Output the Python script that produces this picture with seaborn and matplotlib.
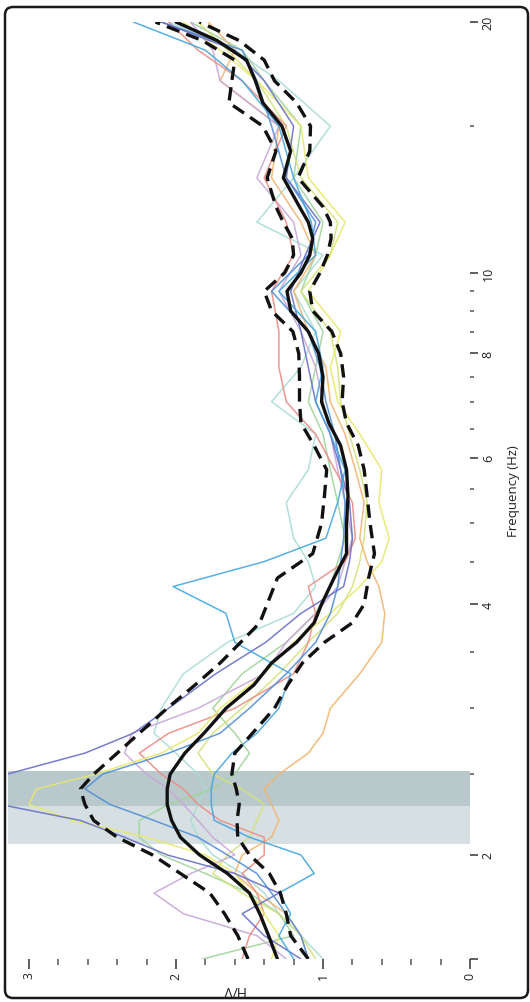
import matplotlib
matplotlib.use("Agg")
import matplotlib.pyplot as plt
import seaborn as sns
from matplotlib.patches import FancyBboxPatch
from matplotlib.transforms import IdentityTransform
from matplotlib.ticker import FixedLocator, FixedFormatter, NullFormatter

# ---------------- data ----------------
freq_main = [1.5, 1.6, 1.7, 1.8, 1.9, 2.0, 2.1, 2.2, 2.3, 2.4, 2.5, 2.65, 2.8, 3.0, 3.2, 3.4,
             3.6, 3.8, 4.0, 4.3, 4.6, 5.0, 5.4, 5.8, 6.2, 6.6, 7.0, 7.5, 8.0, 8.5, 9.0, 9.5,
             10, 10.5, 11, 11.5, 12, 13, 14, 15, 16, 17, 18, 19, 20]
hv_mean = [1.31, 1.37, 1.43, 1.50, 1.65, 1.84, 1.97, 2.03, 2.06, 2.06, 2.04, 1.94, 1.81, 1.66,
           1.47, 1.35, 1.18, 1.06, 1.01, 0.925, 0.84, 0.84, 0.83, 0.84, 0.88, 0.96, 1.01, 1.00,
           1.03, 1.10, 1.22, 1.245, 1.15, 1.09, 1.07, 1.10, 1.16, 1.27, 1.22, 1.28, 1.41, 1.46,
           1.52, 1.72, 2.00]
hv_upper = [1.51, 1.58, 1.67, 1.77, 1.97, 2.16, 2.40, 2.56, 2.62, 2.65, 2.56, 2.40, 2.25, 2.06,
            1.87, 1.70, 1.56, 1.43, 1.38, 1.31, 1.07, 1.01, 0.99, 0.975, 1.06, 1.15, 1.16, 1.16,
            1.165, 1.205, 1.35, 1.40, 1.26, 1.20, 1.21, 1.27, 1.32, 1.38, 1.32, 1.41, 1.64, 1.62,
            1.60, 1.82, 2.14]
hv_lower = [1.10, 1.22, 1.25, 1.29, 1.365, 1.50, 1.58, 1.585, 1.57, 1.59, 1.62, 1.60, 1.48, 1.33,
            1.24, 1.14, 0.99, 0.80, 0.72, 0.69, 0.65, 0.68, 0.70, 0.72, 0.76, 0.84, 0.87, 0.86,
            0.88, 0.94, 1.07, 1.09, 1.02, 0.97, 0.945, 0.95, 1.00, 1.17, 1.09, 1.085, 1.18, 1.33,
            1.40, 1.57, 1.84]

freq_win = [1.5, 1.6, 1.7, 1.8, 1.9, 2.0, 2.1, 2.2, 2.3, 2.4, 2.5, 2.65, 2.8, 3.0, 3.3, 3.6, 3.9,
            4.2, 4.5, 4.8, 5.3, 5.8, 6.4, 7.0, 7.7, 8.5, 9.5, 10.5, 11.5, 13, 15, 17, 18.5, 20]
win_sky = [1.20, 1.30, 1.22, 1.30, 1.06, 1.15, 1.50, 1.74, 1.76, 1.76, 1.74, 1.62, 1.45, 1.30,
           1.22, 1.60, 1.66, 2.02, 1.40, 0.98, 0.90, 0.85, 0.95, 1.05, 1.00, 1.05, 1.30, 1.05,
           1.08, 1.20, 1.30, 1.55, 1.80, 2.29]
win_indigo = [1.15, 1.40, 1.55, 1.30, 1.60, 2.06, 2.35, 2.65, 3.20, 3.35, 3.15, 2.62, 2.29, 2.05,
              1.73, 1.39, 1.15, 0.86, 0.82, 0.80, 0.82, 0.88, 0.95, 1.05, 1.10, 1.15, 1.22, 1.12,
              1.02, 1.25, 1.20, 1.40, 1.60, 2.10]
win_yellow = [1.35, 1.30, 1.40, 1.50, 1.60, 1.80, 2.20, 2.70, 3.00, 2.95, 2.55, 2.10, 1.85, 1.70,
              1.40, 1.20, 0.95, 0.75, 0.60, 0.55, 0.62, 0.60, 0.75, 0.90, 0.95, 0.88, 1.10, 0.95,
              0.85, 1.10, 1.15, 1.45, 1.70, 1.95]
win_green = [1.82, 1.20, 1.30, 1.50, 1.80, 2.10, 2.25, 2.25, 2.05, 1.75, 1.60, 1.50, 1.60, 1.75,
             1.55, 1.25, 1.05, 0.95, 0.90, 0.85, 0.90, 0.95, 1.00, 1.10, 1.05, 1.00, 1.15, 1.05,
             1.00, 1.20, 1.15, 1.40, 1.55, 1.90]
win_teal = [1.00, 1.15, 1.30, 1.40, 1.55, 1.75, 1.85, 1.90, 1.85, 1.80, 1.85, 2.00, 2.15, 2.10,
            1.95, 1.65, 1.20, 1.05, 1.10, 1.20, 1.25, 1.10, 1.05, 1.35, 1.15, 1.05, 1.20, 1.00,
            1.45, 1.20, 0.95, 1.30, 1.60, 2.05]
win_red = [1.55, 1.50, 1.40, 1.45, 1.55, 1.40, 1.40, 1.70, 1.85, 1.95, 2.10, 2.25, 2.05, 1.60,
           1.20, 1.10, 1.05, 1.10, 0.85, 0.78, 0.80, 0.92, 1.05, 1.25, 1.30, 1.30, 1.35, 1.20,
           1.25, 1.40, 1.25, 1.55, 1.85, 2.05]
win_orange = [1.10, 1.15, 1.25, 1.45, 1.60, 1.55, 1.35, 1.30, 1.35, 1.40, 1.30, 1.10, 1.00, 0.95,
              0.75, 0.60, 0.58, 0.62, 0.70, 0.75, 0.72, 0.78, 0.85, 0.95, 0.98, 1.10, 1.20, 1.05,
              1.15, 1.35, 1.30, 1.70, 1.60, 1.78]
win_lavender = [1.25, 1.45, 1.95, 2.15, 1.90, 1.60, 1.75, 1.85, 1.95, 2.05, 2.20, 2.35, 2.30, 1.85,
                1.40, 1.25, 1.05, 0.90, 0.85, 0.80, 0.85, 0.90, 0.95, 1.00, 1.05, 1.15, 1.30, 1.15,
                1.20, 1.45, 1.30, 1.70, 1.75, 1.90]
win_blue = [1.10, 1.15, 1.25, 1.35, 1.45, 1.65, 1.85, 2.15, 2.45, 2.62, 2.50, 2.05, 1.70, 1.50,
            1.25, 1.05, 0.95, 0.90, 0.88, 0.86, 0.85, 0.88, 0.92, 0.98, 1.02, 1.10, 1.35, 1.10,
            1.05, 1.25, 1.35, 1.45, 1.55, 2.10]
win_ygreen = [1.05, 1.15, 1.30, 1.55, 1.75, 1.65, 1.50, 1.45, 1.40, 1.55, 1.75, 1.85, 1.75, 1.55,
              1.30, 1.10, 0.90, 0.80, 0.75, 0.72, 0.70, 0.75, 0.82, 0.88, 0.90, 0.95, 1.15, 0.95,
              0.90, 1.15, 1.25, 1.45, 1.65, 1.85]

band_std = [2.06, 2.52]
band_peak = [2.29, 2.52]

hv_major = [0, 1, 2, 3]
hv_minor = [0.2, 0.4, 0.6, 0.8, 1.2, 1.4, 1.6, 1.8, 2.2, 2.4, 2.6, 2.8]
f_major = [1.5, 2, 4, 6, 8, 10, 20]
f_major_labels = ["", "2", "4", "6", "8", "10", "20"]
f_minor = [2.5, 3, 3.5, 4.5, 5, 5.5, 6.5, 7, 7.5, 8.5, 9, 9.5, 15]

# ---------------- style ----------------
sns.set_theme(style="white")
plt.rcParams['font.family'] = ['Open Sans', 'DejaVu Sans']

W, H = 530, 1003
fig = plt.figure(figsize=(W / 100, H / 100), dpi=100)
fig.patch.set_facecolor('white')
ax = fig.add_axes([8 / W, 43 / H, 462 / W, 937 / H])

ax.axhspan(band_std[0], band_std[1], color='#d6e0e2', lw=0, zorder=0)
ax.axhspan(band_peak[0], band_peak[1], color='#b9c8cb', lw=0, zorder=0)

windows = [
    (win_teal, '#a9dcd5'),
    (win_green, '#9fd49c'),
    (win_ygreen, '#d4e27c'),
    (win_orange, '#f2b470'),
    (win_lavender, '#c9a7d7'),
    (win_red, '#ec8c84'),
    (win_yellow, '#e8e86c'),
    (win_blue, '#4f8fd8'),
    (win_indigo, '#6870c8'),
    (win_sky, '#45a6e0'),
]
for vals, col in windows:
    sns.lineplot(x=vals, y=freq_win, sort=False, estimator=None, color=col, lw=1.1,
                 alpha=0.9, ax=ax, zorder=2)

for vals in (hv_upper, hv_lower):
    sns.lineplot(x=vals, y=freq_main, sort=False, estimator=None, color='#111111', lw=2.4,
                 linestyle=(0, (4.0, 2.2)), ax=ax, zorder=3)
sns.lineplot(x=hv_mean, y=freq_main, sort=False, estimator=None, color='#111111', lw=2.4,
             ax=ax, zorder=4)

ax.set_yscale('log')
ax.set_ylim(1.5, 20)
ax.set_xlim(3.143, 0)

for s in ax.spines.values():
    s.set_visible(False)

ax.xaxis.set_major_locator(FixedLocator(hv_major))
ax.xaxis.set_minor_locator(FixedLocator(hv_minor))
ax.xaxis.set_major_formatter(FixedFormatter([str(v) for v in hv_major]))
ax.xaxis.set_minor_formatter(NullFormatter())
ax.tick_params(axis='x', which='major', bottom=True, top=False, length=7.5, width=1.1,
               color='#333333', labelrotation=90, labelsize=9, pad=1.5, labelcolor='#222222')
ax.tick_params(axis='x', which='minor', bottom=True, top=False, length=4, width=1.1,
               color='#555555')

ax.yaxis.tick_right()
ax.yaxis.set_major_locator(FixedLocator(f_major))
ax.yaxis.set_major_formatter(FixedFormatter(f_major_labels))
ax.yaxis.set_minor_locator(FixedLocator(f_minor))
ax.yaxis.set_minor_formatter(NullFormatter())
ax.tick_params(axis='y', which='major', right=True, left=False, length=5.5, width=1.1,
               color='#333333', labelrotation=90, labelsize=9, pad=3, labelcolor='#222222')
ax.tick_params(axis='y', which='minor', right=True, left=False, length=3, width=1.1,
               color='#555555')
for lab in ax.get_yticklabels():
    lab.set_va('center')

ax.set_xlabel('H/V', rotation=180, fontsize=10, color='#222222', va='center', ha='center')
ax.xaxis.set_label_coords((233 - 8) / 462, -(990 - 960) / 937)
ax.set_ylabel('Frequency (Hz)', rotation=90, fontsize=9.5, color='#222222',
              va='center', ha='center')
ax.yaxis.set_label_coords((513 - 8) / 462, 0.5)
ax.grid(False)

frame = FancyBboxPatch((5, 4), 523, 991, boxstyle='round,pad=0,rounding_size=8',
                       transform=IdentityTransform(), fill=False, ec='#1a1a1a', lw=1.8)
fig.add_artist(frame)

fig.savefig('out.png', dpi=100)
